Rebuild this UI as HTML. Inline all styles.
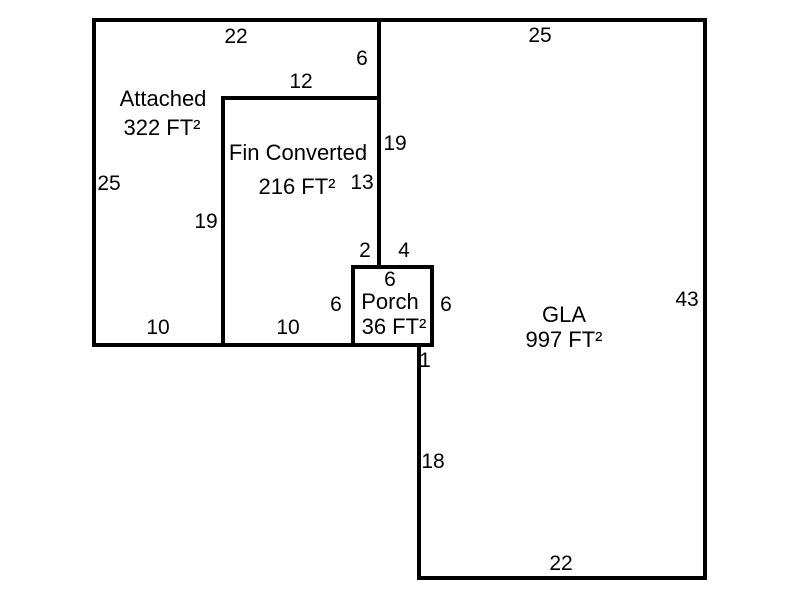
<!DOCTYPE html>
<html><head><style>
body{margin:0;background:#fff;width:800px;height:600px;overflow:hidden}
svg text{font-family:"Liberation Sans",sans-serif;font-size:21px;fill:#000}
svg text.l{font-size:22px}
</style></head><body>
<svg width="800" height="600" xmlns="http://www.w3.org/2000/svg">
<g stroke="#000" stroke-width="4" fill="none" stroke-linecap="square">
<polyline points="94,20 705,20 705,578 419,578 419,345"/>
<polyline points="94,20 94,345 353,345"/>
<line x1="379" y1="20" x2="379" y2="267"/>
<polyline points="379,98 223,98 223,345"/>
<rect x="353" y="267" width="79" height="78"/>
</g>
<g text-anchor="middle">
<text x="236" y="43">22</text>
<text x="540" y="42">25</text>
<text x="362" y="65">6</text>
<text x="301" y="88">12</text>
<text class="l" x="163" y="106">Attached</text>
<text class="l" x="162" y="135">322 FT²</text>
<text x="395" y="150">19</text>
<text class="l" x="298" y="160">Fin Converted</text>
<text class="l" x="297" y="194">216 FT²</text>
<text x="362" y="189">13</text>
<text x="109" y="190">25</text>
<text x="206" y="228">19</text>
<text x="365" y="257">2</text>
<text x="404" y="257">4</text>
<text x="390" y="286">6</text>
<text class="l" x="390" y="309">Porch</text>
<text class="l" x="394" y="334">36 FT²</text>
<text x="336" y="311">6</text>
<text x="446" y="311">6</text>
<text class="l" x="564" y="322">GLA</text>
<text class="l" x="564" y="347">997 FT²</text>
<text x="687" y="306">43</text>
<text x="158" y="334">10</text>
<text x="288" y="334">10</text>
<text x="425" y="367">1</text>
<text x="433" y="468">18</text>
<text x="561" y="570">22</text>
</g>
</svg>
</body></html>
